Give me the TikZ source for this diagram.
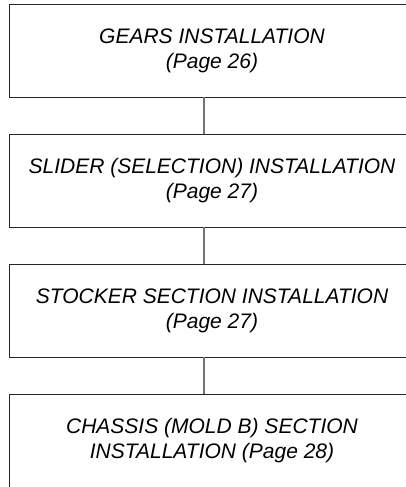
\documentclass[tikz,border=0pt]{standalone}
\usepackage{fontspec}
\setmainfont{Liberation Sans}
\begin{document}
\begin{tikzpicture}[x=1pt,y=1pt,
  stagebox/.style={draw=black!85, line width=0.9pt, minimum width=406pt, minimum height=93pt,
    inner sep=0pt, align=center, font=\fontsize{21}{25}\selectfont\itshape},
  link/.style={draw=black!55, line width=1.1pt}]
\useasboundingbox (0,0) rectangle (406,-487);
\clip (0,0) rectangle (406,-487);
\node[stagebox] (b1) at (212,-50.5) {GEARS INSTALLATION\\(Page 26)};
\node[stagebox] (b2) at (212,-180.5) {SLIDER (SELECTION) INSTALLATION\\(Page 27)};
\node[stagebox] (b3) at (212,-310.5) {STOCKER SECTION INSTALLATION\\(Page 27)};
\node[stagebox] (b4) at (212,-440.5) {CHASSIS (MOLD B) SECTION\\INSTALLATION (Page 28)};
\coordinate (cx) at (204,0);
\draw[link] (b1.south -| cx) -- (b2.north -| cx);
\draw[link] (b2.south -| cx) -- (b3.north -| cx);
\draw[link] (b3.south -| cx) -- (b4.north -| cx);
\end{tikzpicture}
\end{document}
